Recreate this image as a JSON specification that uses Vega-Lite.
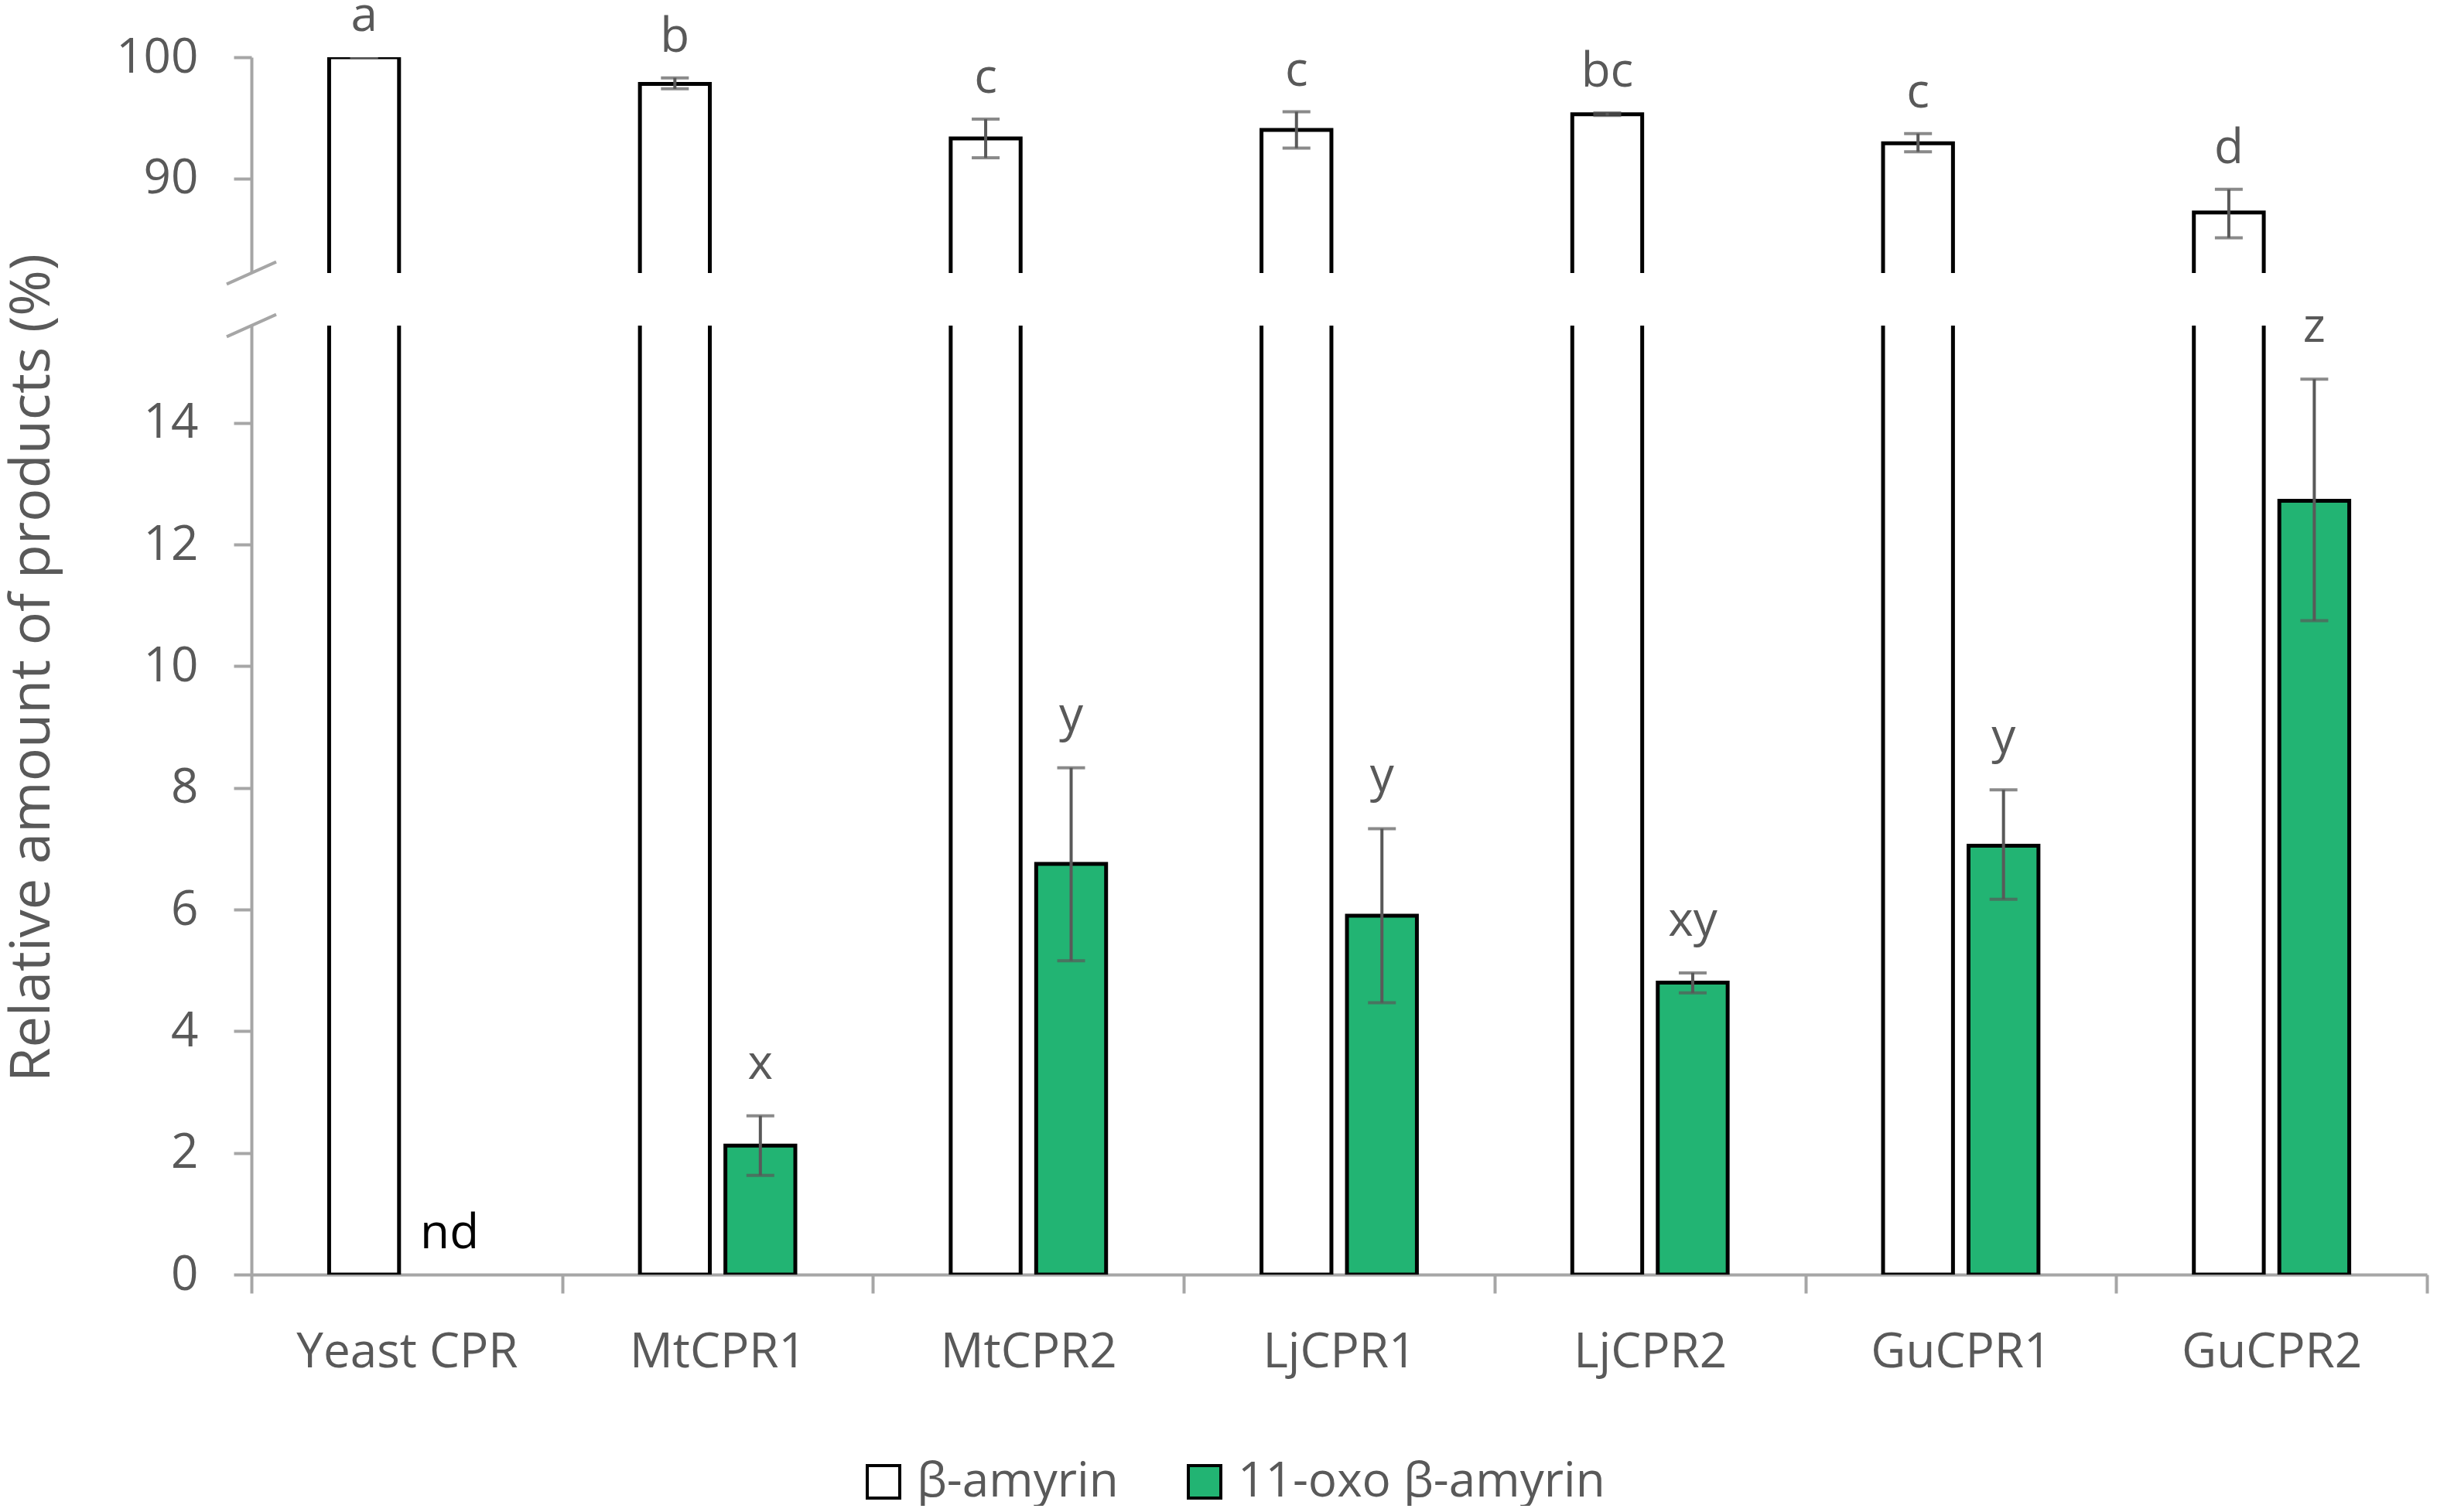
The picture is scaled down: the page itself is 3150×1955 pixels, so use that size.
{
  "$schema": "https://vega.github.io/schema/vega-lite/v6.json",
  "background": "white",
  "padding": {"left": 4, "top": -10, "right": 6, "bottom": 0},
  "config": {
    "view": {"stroke": null},
    "font": "Open Sans",
    "axis": {
      "grid": false,
      "domainColor": "#A6A6A6",
      "domainWidth": 4,
      "tickColor": "#A6A6A6",
      "tickWidth": 4,
      "labelColor": "#595959",
      "labelFont": "Open Sans",
      "labelFontSize": 62,
      "labelLimit": 0,
      "titleFont": "Open Sans"
    }
  },
  "datasets": {
    "cpr": [
      {"cpr": "Yeast CPR", "product": "β-amyrin", "value": 100, "lo": 100, "hi": 100, "letter": "a"},
      {"cpr": "Yeast CPR", "product": "11-oxo β-amyrin", "value": 0, "lo": 0, "hi": 0, "letter": "nd"},
      {"cpr": "MtCPR1", "product": "β-amyrin", "value": 97.8, "lo": 97.4, "hi": 98.3, "letter": "b"},
      {"cpr": "MtCPR1", "product": "11-oxo β-amyrin", "value": 2.12, "lo": 1.63, "hi": 2.61, "letter": "x"},
      {"cpr": "MtCPR2", "product": "β-amyrin", "value": 93.3, "lo": 91.7, "hi": 94.9, "letter": "c"},
      {"cpr": "MtCPR2", "product": "11-oxo β-amyrin", "value": 6.75, "lo": 5.16, "hi": 8.33, "letter": "y"},
      {"cpr": "LjCPR1", "product": "β-amyrin", "value": 94.0, "lo": 92.5, "hi": 95.5, "letter": "c"},
      {"cpr": "LjCPR1", "product": "11-oxo β-amyrin", "value": 5.9, "lo": 4.47, "hi": 7.33, "letter": "y"},
      {"cpr": "LjCPR2", "product": "β-amyrin", "value": 95.3, "lo": 95.2, "hi": 95.4, "letter": "bc"},
      {"cpr": "LjCPR2", "product": "11-oxo β-amyrin", "value": 4.8, "lo": 4.63, "hi": 4.96, "letter": "xy"},
      {"cpr": "GuCPR1", "product": "β-amyrin", "value": 92.9, "lo": 92.2, "hi": 93.7, "letter": "c"},
      {"cpr": "GuCPR1", "product": "11-oxo β-amyrin", "value": 7.05, "lo": 6.17, "hi": 7.97, "letter": "y"},
      {"cpr": "GuCPR2", "product": "β-amyrin", "value": 87.2, "lo": 85.1, "hi": 89.1, "letter": "d"},
      {"cpr": "GuCPR2", "product": "11-oxo β-amyrin", "value": 12.72, "lo": 10.75, "hi": 14.72, "letter": "z"}
    ]
  },
  "bounds": "flush",
  "spacing": 68,
  "resolve": {"scale": {"y": "independent", "color": "independent"}, "legend": {"color": "independent"}},
  "vconcat": [
    {
      "width": 2812,
      "height": 279,
      "layer": [
        {
          "data": {"name": "cpr"},
          "transform": [{"filter": "datum.value > 0"}],
          "mark": {"type": "bar", "stroke": "black", "strokeWidth": 5, "clip": true},
          "encoding": {
            "x": {"field": "cpr", "type": "nominal", "sort": ["Yeast CPR", "MtCPR1", "MtCPR2", "LjCPR1", "LjCPR2", "GuCPR1", "GuCPR2"], "scale": {"paddingInner": 0, "paddingOuter": 0}, "axis": null},
            "xOffset": {"field": "product", "type": "nominal", "sort": ["β-amyrin", "11-oxo β-amyrin"], "scale": {"paddingInner": 0.182, "paddingOuter": 0.909}},
            "y": {"field": "value", "type": "quantitative", "scale": {"domain": [82.2, 100], "nice": false, "zero": false}, "axis": {"values": [90, 100], "format": "d", "title": null, "tickSize": 23, "labelPadding": 46}},
            "color": {"field": "product", "type": "nominal", "scale": {"domain": ["β-amyrin", "11-oxo β-amyrin"], "range": ["white", "#22B473"]}, "legend": null}
          }
        },
        {
          "data": {"name": "cpr"},
          "transform": [{"filter": "datum.value > 0"}],
          "mark": {"type": "rule", "color": "#595959", "strokeWidth": 4, "clip": true},
          "encoding": {
            "x": {"field": "cpr", "type": "nominal", "sort": ["Yeast CPR", "MtCPR1", "MtCPR2", "LjCPR1", "LjCPR2", "GuCPR1", "GuCPR2"]},
            "xOffset": {"field": "product", "type": "nominal", "sort": ["β-amyrin", "11-oxo β-amyrin"]},
            "y": {"field": "lo", "type": "quantitative"},
            "y2": {"field": "hi"}
          }
        },
        {
          "data": {"name": "cpr"},
          "transform": [{"filter": "datum.value > 0"}],
          "mark": {"type": "tick", "color": "#595959", "size": 36, "thickness": 4, "clip": true},
          "encoding": {
            "x": {"field": "cpr", "type": "nominal", "sort": ["Yeast CPR", "MtCPR1", "MtCPR2", "LjCPR1", "LjCPR2", "GuCPR1", "GuCPR2"]},
            "xOffset": {"field": "product", "type": "nominal", "sort": ["β-amyrin", "11-oxo β-amyrin"]},
            "y": {"field": "lo", "type": "quantitative"}
          }
        },
        {
          "data": {"name": "cpr"},
          "transform": [{"filter": "datum.value > 0"}],
          "mark": {"type": "tick", "color": "#595959", "size": 36, "thickness": 4, "clip": true},
          "encoding": {
            "x": {"field": "cpr", "type": "nominal", "sort": ["Yeast CPR", "MtCPR1", "MtCPR2", "LjCPR1", "LjCPR2", "GuCPR1", "GuCPR2"]},
            "xOffset": {"field": "product", "type": "nominal", "sort": ["β-amyrin", "11-oxo β-amyrin"]},
            "y": {"field": "hi", "type": "quantitative"}
          }
        },
        {
          "data": {"name": "cpr"},
          "transform": [{"filter": "datum.product == 'β-amyrin'"}],
          "mark": {"type": "text", "dy": -34, "baseline": "alphabetic", "fontSize": 62, "color": "#595959"},
          "encoding": {
            "x": {"field": "cpr", "type": "nominal", "sort": ["Yeast CPR", "MtCPR1", "MtCPR2", "LjCPR1", "LjCPR2", "GuCPR1", "GuCPR2"]},
            "xOffset": {"field": "product", "type": "nominal", "sort": ["β-amyrin", "11-oxo β-amyrin"]},
            "y": {"field": "hi", "type": "quantitative"},
            "text": {"field": "letter"}
          }
        },
        {
          "data": {"values": [{"edge": "bottom"}]},
          "mark": {"type": "point", "shape": "M -1 0.45 L 1 -0.45", "size": 4096, "filled": false, "stroke": "#A6A6A6", "strokeWidth": 4, "opacity": 1},
          "encoding": {
            "x": {"value": 0},
            "y": {"datum": 82.2}
          }
        }
      ]
    },
    {
      "width": 2812,
      "height": 1227,
      "layer": [
        {
          "data": {"name": "cpr"},
          "transform": [{"filter": "datum.value > 0"}],
          "mark": {"type": "bar", "stroke": "black", "strokeWidth": 5, "clip": true},
          "encoding": {
            "x": {"field": "cpr", "type": "nominal", "sort": ["Yeast CPR", "MtCPR1", "MtCPR2", "LjCPR1", "LjCPR2", "GuCPR1", "GuCPR2"], "scale": {"paddingInner": 0, "paddingOuter": 0}, "axis": {"title": null, "labelAngle": 0, "tickBand": "extent", "tickSize": 24, "labelPadding": 46}},
            "xOffset": {"field": "product", "type": "nominal", "sort": ["β-amyrin", "11-oxo β-amyrin"], "scale": {"paddingInner": 0.182, "paddingOuter": 0.909}},
            "y": {"field": "value", "type": "quantitative", "scale": {"domain": [0, 15.6], "nice": false}, "axis": {"values": [0, 2, 4, 6, 8, 10, 12, 14], "format": "d", "tickSize": 23, "labelPadding": 46, "title": "Relative amount of products (%)", "titleFontSize": 72, "titleFontWeight": "normal", "titleColor": "#595959", "titleAngle": -90, "titleAlign": "center", "titleBaseline": "middle", "titleX": -284, "titleY": 442}},
            "color": {"field": "product", "type": "nominal", "scale": {"domain": ["β-amyrin", "11-oxo β-amyrin"], "range": ["white", "#22B473"]}, "legend": {"title": null, "orient": "none", "direction": "horizontal", "legendX": 786, "legendY": 1464, "symbolType": "square", "symbolSize": 1764, "symbolStrokeWidth": 4, "symbolStrokeColor": "black", "symbolOpacity": 1, "labelFontSize": 62, "labelColor": "#595959", "labelFont": "Open Sans", "labelLimit": 0, "labelOffset": 12, "columnPadding": 80}}
          }
        },
        {
          "data": {"name": "cpr"},
          "transform": [{"filter": "datum.value > 0"}],
          "mark": {"type": "rule", "color": "#595959", "strokeWidth": 4, "clip": true},
          "encoding": {
            "x": {"field": "cpr", "type": "nominal", "sort": ["Yeast CPR", "MtCPR1", "MtCPR2", "LjCPR1", "LjCPR2", "GuCPR1", "GuCPR2"]},
            "xOffset": {"field": "product", "type": "nominal", "sort": ["β-amyrin", "11-oxo β-amyrin"]},
            "y": {"field": "lo", "type": "quantitative"},
            "y2": {"field": "hi"}
          }
        },
        {
          "data": {"name": "cpr"},
          "transform": [{"filter": "datum.value > 0"}],
          "mark": {"type": "tick", "color": "#595959", "size": 36, "thickness": 4, "clip": true},
          "encoding": {
            "x": {"field": "cpr", "type": "nominal", "sort": ["Yeast CPR", "MtCPR1", "MtCPR2", "LjCPR1", "LjCPR2", "GuCPR1", "GuCPR2"]},
            "xOffset": {"field": "product", "type": "nominal", "sort": ["β-amyrin", "11-oxo β-amyrin"]},
            "y": {"field": "lo", "type": "quantitative"}
          }
        },
        {
          "data": {"name": "cpr"},
          "transform": [{"filter": "datum.value > 0"}],
          "mark": {"type": "tick", "color": "#595959", "size": 36, "thickness": 4, "clip": true},
          "encoding": {
            "x": {"field": "cpr", "type": "nominal", "sort": ["Yeast CPR", "MtCPR1", "MtCPR2", "LjCPR1", "LjCPR2", "GuCPR1", "GuCPR2"]},
            "xOffset": {"field": "product", "type": "nominal", "sort": ["β-amyrin", "11-oxo β-amyrin"]},
            "y": {"field": "hi", "type": "quantitative"}
          }
        },
        {
          "data": {"name": "cpr"},
          "transform": [{"filter": "datum.product == '11-oxo β-amyrin' && datum.letter != 'nd'"}],
          "mark": {"type": "text", "dy": -48, "baseline": "alphabetic", "fontSize": 62, "color": "#595959"},
          "encoding": {
            "x": {"field": "cpr", "type": "nominal", "sort": ["Yeast CPR", "MtCPR1", "MtCPR2", "LjCPR1", "LjCPR2", "GuCPR1", "GuCPR2"]},
            "xOffset": {"field": "product", "type": "nominal", "sort": ["β-amyrin", "11-oxo β-amyrin"]},
            "y": {"field": "hi", "type": "quantitative"},
            "text": {"field": "letter"}
          }
        },
        {
          "data": {"name": "cpr"},
          "transform": [{"filter": "datum.letter == 'nd'"}],
          "mark": {"type": "text", "dy": -34, "baseline": "alphabetic", "fontSize": 62, "color": "black"},
          "encoding": {
            "x": {"field": "cpr", "type": "nominal", "sort": ["Yeast CPR", "MtCPR1", "MtCPR2", "LjCPR1", "LjCPR2", "GuCPR1", "GuCPR2"]},
            "xOffset": {"field": "product", "type": "nominal", "sort": ["β-amyrin", "11-oxo β-amyrin"]},
            "y": {"field": "hi", "type": "quantitative"},
            "text": {"field": "letter"}
          }
        },
        {
          "data": {"values": [{"edge": "top"}]},
          "mark": {"type": "point", "shape": "M -1 0.45 L 1 -0.45", "size": 4096, "filled": false, "stroke": "#A6A6A6", "strokeWidth": 4, "opacity": 1},
          "encoding": {
            "x": {"value": 0},
            "y": {"datum": 15.6}
          }
        }
      ]
    }
  ]
}
